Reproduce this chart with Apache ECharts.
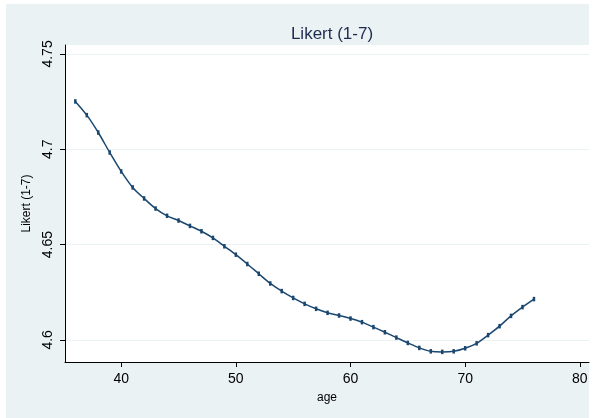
<!DOCTYPE html>
<html>
<head>
<meta charset="utf-8">
<script src="https://cdn.jsdelivr.net/npm/echarts@6/dist/echarts.min.js"></script>
<style>
html,body{margin:0;padding:0;background:#ffffff;}
#chart{width:599px;height:418px;}
</style>
</head>
<body>
<div id="chart"></div>
<script>
const ages = [36,37,38,39,40,41,42,43,44,45,46,47,48,49,50,51,52,53,54,55,56,57,58,59,60,61,62,63,64,65,66,67,68,69,70,71,72,73,74,75,76];
const likert = [4.7251,4.7179,4.7088,4.6983,4.6884,4.6800,4.6742,4.6689,4.6651,4.6626,4.6598,4.6570,4.6535,4.6491,4.6447,4.6398,4.6347,4.6296,4.6256,4.6220,4.6189,4.6163,4.6142,4.6128,4.6112,4.6093,4.6067,4.6040,4.6012,4.5984,4.5958,4.5940,4.5937,4.5940,4.5956,4.5982,4.6025,4.6072,4.6126,4.6172,4.6214];
const xTicks = [40,50,60,70,80];
const yTicks = [4.6,4.65,4.7,4.75];
const yTickLabels = ['4.6','4.65','4.7','4.75'];

const chart = echarts.init(document.getElementById('chart'), null, {renderer:'canvas'});
const font = 'Liberation Sans, Arial, sans-serif';
chart.setOption({
  animation:false,
  backgroundColor:'#ffffff',
  graphic:[{type:'rect',z:-10,shape:{x:6,y:4,width:583,height:414},style:{fill:'#EAF2F3'}}],
  title:{text:'Likert (1-7)',left:327,top:21,textAlign:'center',
    textStyle:{fontFamily:font,fontSize:17,fontWeight:'normal',color:'#1e2b50'}},
  grid:{left:65,right:10,top:45,bottom:56,show:true,backgroundColor:'#ffffff',borderWidth:0},
  xAxis:{type:'value',min:35.1,max:80.8,
    name:'age',nameLocation:'middle',nameGap:30,
    nameTextStyle:{fontFamily:font,fontSize:12,color:'#000'},
    axisLine:{show:true,onZero:false,lineStyle:{color:'#000',width:1}},
    axisTick:{show:true,length:5,customValues:xTicks,lineStyle:{color:'#000'}},
    axisLabel:{customValues:xTicks,fontFamily:font,fontSize:14,color:'#000',margin:10},
    splitLine:{show:false}},
  yAxis:{type:'value',min:4.5884,max:4.7547,
    name:'Likert (1-7)',nameLocation:'middle',nameRotate:90,nameGap:31,
    nameTextStyle:{fontFamily:font,fontSize:12,color:'#000'},
    axisLine:{show:true,onZero:false,lineStyle:{color:'#000',width:1}},
    axisTick:{show:true,length:5,customValues:yTicks,lineStyle:{color:'#000'}},
    axisLabel:{customValues:yTicks,rotate:90,fontFamily:font,fontSize:14,color:'#000',margin:10,
      formatter:function(v){const i=yTicks.findIndex(t=>Math.abs(t-v)<1e-6);return i>=0?yTickLabels[i]:'';}},
    splitLine:{show:true,lineStyle:{color:'#EAF2F3',width:1}}},
  series:[{type:'line',data:ages.map((a,i)=>[a,likert[i]]),smooth:0.3,
    lineStyle:{color:'#1a476f',width:1.5},
    symbol:'rect',symbolSize:[2.5,4.5],itemStyle:{color:'#1a476f'}}]
});
</script>
</body>
</html>
